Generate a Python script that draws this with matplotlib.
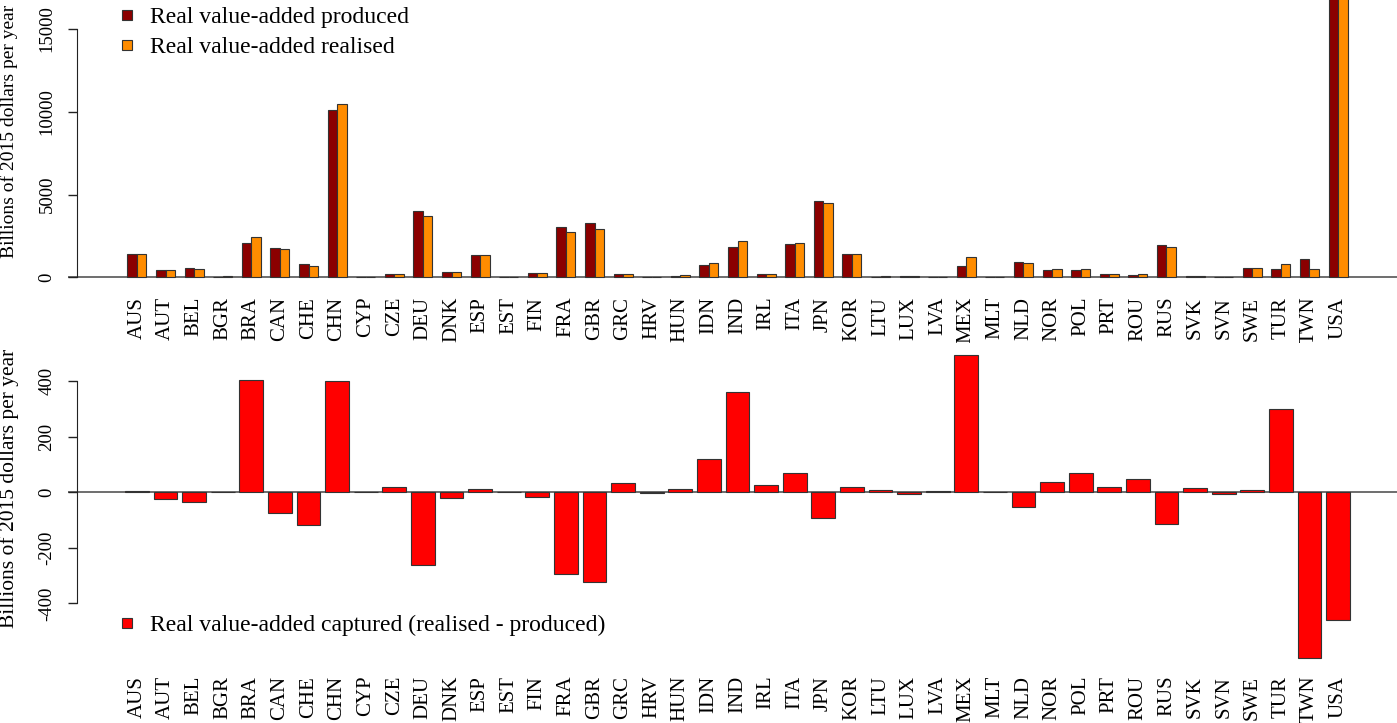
import numpy as np
import matplotlib
matplotlib.use('Agg')
import matplotlib.pyplot as plt
from matplotlib.patches import Rectangle

countries = ['AUS', 'AUT', 'BEL', 'BGR', 'BRA', 'CAN', 'CHE', 'CHN', 'CYP', 'CZE',
             'DEU', 'DNK', 'ESP', 'EST', 'FIN', 'FRA', 'GBR', 'GRC', 'HRV', 'HUN',
             'IDN', 'IND', 'IRL', 'ITA', 'JPN', 'KOR', 'LTU', 'LUX', 'LVA', 'MEX',
             'MLT', 'NLD', 'NOR', 'POL', 'PRT', 'ROU', 'RUS', 'SVK', 'SVN', 'SWE',
             'TUR', 'TWN', 'USA']

# billions of 2015 dollars per year
produced = [1400, 450, 560, 60, 2070, 1790, 840, 10100, 25, 185,
            4000, 340, 1330, 25, 290, 3040, 3280, 185, 58, 120,
            760, 1850, 215, 2000, 4620, 1410, 55, 70, 38, 720,
            15, 920, 460, 460, 210, 150, 1950, 85, 50, 560,
            500, 1140, 18200]
realised = [1406, 426, 524, 62, 2473, 1717, 721, 10500, 27, 205,
            3740, 318, 1341, 27, 272, 2745, 2956, 220, 56, 132,
            879, 2212, 241, 2070, 4526, 1430, 62, 64, 41, 1213,
            15, 866, 498, 528, 229, 199, 1835, 102, 45, 568,
            799, 542, 17740]
captured = [6, -24, -36, 2, 403, -73, -119, 400, 2, 20,
            -260, -22, 11, 2, -18, -295, -324, 35, -2, 12,
            119, 362, 26, 70, -94, 20, 7, -6, 3, 493,
            0, -54, 38, 68, 19, 49, -115, 17, -5, 8,
            299, -598, -461]

top_ticks = [0, 5000, 10000, 15000]
bottom_ticks = [-400, -200, 0, 200, 400]

plt.rcParams['font.family'] = ['Liberation Serif', 'DejaVu Serif']

W, H = 1397, 723
fig = plt.figure(figsize=(W / 100, H / 100), dpi=100)


def px_axes(left, top, right, bottom):
    return fig.add_axes([left / W, 1 - bottom / H, (right - left) / W, (bottom - top) / H])


def style_axis(ax, ticks, pad_x):
    for s in ['top', 'right', 'bottom']:
        ax.spines[s].set_visible(False)
    ax.spines['left'].set_position(('outward', -6.5))
    ax.spines['left'].set_bounds(ticks[0], ticks[-1])
    ax.spines['left'].set_color('#222222')
    ax.set_yticks(ticks)
    ax.set_yticklabels([str(t) for t in ticks], rotation=90, va='center')
    ax.tick_params(axis='y', length=6.5, width=1, color='#222222', pad=9, labelsize=13.5)
    ax.set_xticks(x)
    ax.set_xticklabels(countries, rotation=90, va='top')
    ax.tick_params(axis='x', length=0, pad=pad_x, labelsize=15)
    ax.set_xlim(-2.41, 44.06)
    ax.axhline(0, color='#555555', lw=1.2, zorder=0)


def legend_row(y, color, label):
    fig.add_artist(Rectangle((122 / W, 1 - (y + 5) / H), 10 / W, 10 / H,
                             transform=fig.transFigure, facecolor=color,
                             edgecolor='#333333', lw=0.8))
    fig.text(150 / W, 1 - (y + 8) / H, label, fontsize=17, va='baseline', ha='left')


x = np.arange(len(countries))
w = 1 / 3

# top panel: produced vs realised
ax1 = px_axes(68, 0, 1397, 285)
ax1.bar(x - w / 2, produced, w, color='#8B0000', edgecolor='#333333', lw=0.8)
ax1.bar(x + w / 2, realised, w, color='#FF8C00', edgecolor='#333333', lw=0.8)
ax1.set_ylim(-453, 16750)
style_axis(ax1, top_ticks, 8.5)

# bottom panel: captured
ax2 = px_axes(68, 343, 1397, 671)
ax2.bar(x, captured, 1 / 1.2, color='#FF0000', edgecolor='#333333', lw=0.8)
ax2.set_ylim(-643, 537)
style_axis(ax2, bottom_ticks, 3.5)

fig.text(9 / W, 1 - 131 / H, 'Billions of 2015 dollars per year', rotation=90,
         ha='center', va='center', fontsize=14)
fig.text(9 / W, 1 - 488 / H, 'Billions of 2015 dollars per year', rotation=90,
         ha='center', va='center', fontsize=15.5)

legend_row(15, '#8B0000', 'Real value-added produced')
legend_row(45, '#FF8C00', 'Real value-added realised')
legend_row(623, '#FF0000', 'Real value-added captured (realised - produced)')

fig.savefig('out.png', dpi=100)
